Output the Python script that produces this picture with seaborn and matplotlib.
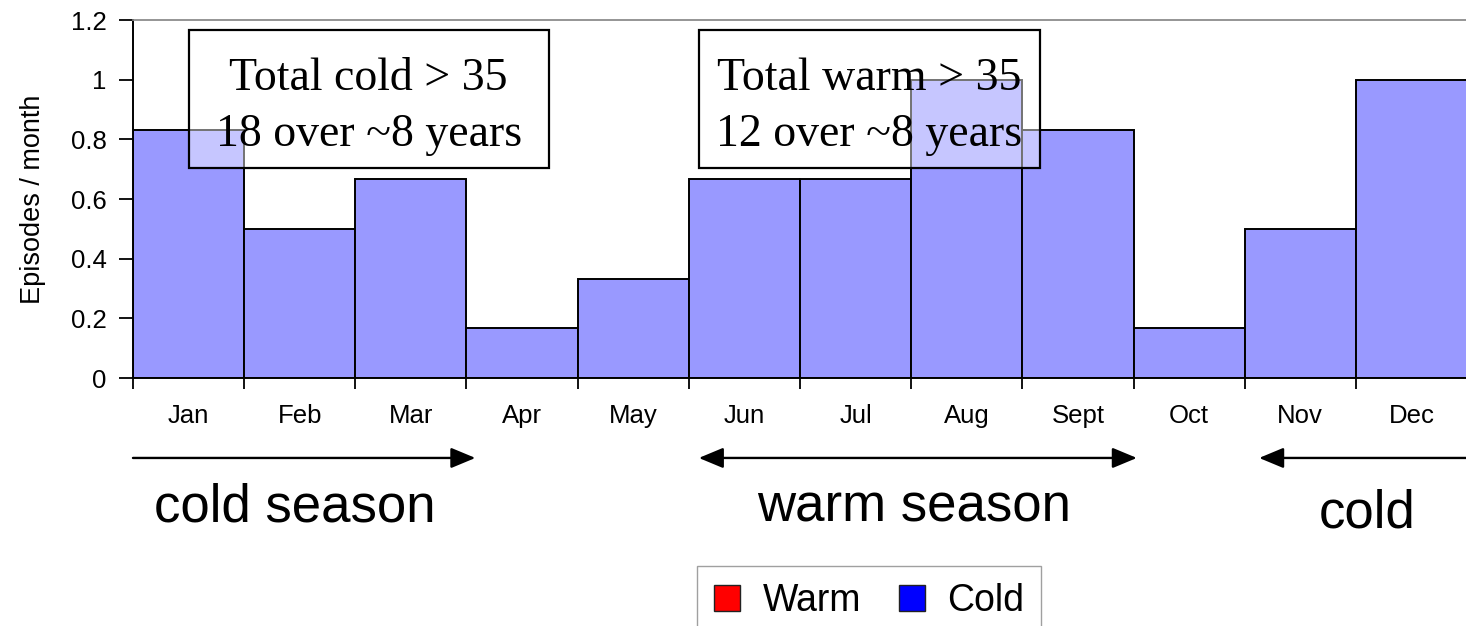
import numpy as np
import pandas as pd
import seaborn as sns
import matplotlib.pyplot as plt
from matplotlib.patches import Patch, Rectangle
from matplotlib.ticker import FuncFormatter

months = ["Jan", "Feb", "Mar", "Apr", "May", "Jun", "Jul", "Aug", "Sept", "Oct", "Nov", "Dec"]
episodes = [0.833, 0.5, 0.667, 0.167, 0.333, 0.667, 0.667, 1.0, 0.833, 0.167, 0.5, 1.0]
box_texts = ["Total cold > 35\n18 over ~8 years", "Total warm > 35\n12 over ~8 years"]
season_labels = ["cold season", "warm season", "cold"]
legend_labels = ["Warm", "Cold"]
legend_colors = ["#ff0000", "#0000ff"]

sns.set_theme(style="ticks")
plt.rcParams["font.family"] = ["Liberation Sans", "DejaVu Sans"]
plt.rcParams["text.color"] = "black"
plt.rcParams["axes.labelcolor"] = "black"
plt.rcParams["xtick.color"] = "black"
plt.rcParams["ytick.color"] = "black"

df = pd.DataFrame({"month": months, "episodes": episodes})

fig = plt.figure(figsize=(14.66, 6.26), dpi=100)
ax = fig.add_axes([0.0907, 0.396, 0.91, 0.572])

sns.barplot(
    data=df,
    x="month",
    y="episodes",
    color="#9999ff",
    saturation=1,
    width=1,
    edgecolor="black",
    linewidth=1.4,
    errorbar=None,
    ax=ax,
)

ax.set_xlim(-0.5, 11.5)
ax.set_ylim(0, 1.2)
ax.set_yticks([0, 0.2, 0.4, 0.6, 0.8, 1.0, 1.2])
ax.yaxis.set_major_formatter(FuncFormatter(lambda v, p: f"{v:g}"))
ax.tick_params(axis="y", labelsize=18.5, length=10, width=1.3, pad=9)

# ticks on bar boundaries, labels at bar centres
ax.set_xticks(np.arange(-0.5, 11.5, 1))
ax.set_xticklabels([])
ax.set_xticks(range(len(months)), minor=True)
ax.set_xticklabels(months, minor=True)
ax.tick_params(axis="x", which="major", length=8, width=1.3)
ax.tick_params(axis="x", which="minor", length=0, labelsize=18.5, pad=19)

ax.set_xlabel("")
ax.set_ylabel("Episodes / month", fontsize=19.5, labelpad=18)

ax.spines["right"].set_visible(False)
ax.spines["top"].set_color("#888888")
for s in ["left", "bottom"]:
    ax.spines[s].set_linewidth(1.4)
    ax.spines[s].set_color("black")

# text boxes (bars show through, lighter)
for (x0, x1), txt in zip([(0.0, 3.24), (4.59, 7.66)], box_texts):
    ax.add_patch(Rectangle((x0, 0.704), x1 - x0, 0.462, facecolor=(1, 1, 1, 0.45),
                           edgecolor="black", linewidth=1.6, zorder=3, clip_on=False))
    ax.text((x0 + x1) / 2, 0.91, txt, ha="center", va="center", fontsize=33,
            family=["Liberation Serif"], linespacing=1.4, zorder=4)

# season arrows
xt = ax.get_xaxis_transform()
arrow = dict(arrowstyle="-|>,head_length=0.6,head_width=0.25", color="black",
             lw=1.7, mutation_scale=25, shrinkA=0, shrinkB=0)
ax.annotate("", xy=(2.58, -0.223), xytext=(-0.5, -0.223), xycoords=xt,
            arrowprops=arrow, annotation_clip=False)
ax.annotate("", xy=(4.59, -0.223), xytext=(8.53, -0.223), xycoords=xt,
            arrowprops=dict(arrow, arrowstyle="<|-|>,head_length=0.6,head_width=0.25"),
            annotation_clip=False)
ax.annotate("", xy=(9.63, -0.223), xytext=(12.0, -0.223), xycoords=xt,
            arrowprops=arrow, annotation_clip=False)

for x, y, lab in zip([0.957, 6.53, 10.6], [-0.36, -0.36, -0.378], season_labels):
    ax.text(x, y, lab, transform=xt, ha="center", va="center", fontsize=38, clip_on=False)

handles = [Patch(facecolor=c, edgecolor="#222222", label=l) for c, l in zip(legend_colors, legend_labels)]
fig.legend(handles=handles, loc="upper left", bbox_to_anchor=(697 / 1466, 1 - 566 / 626),
           ncol=2, frameon=True, fancybox=False, edgecolor="#888888", fontsize=27,
           handlelength=0.7, handleheight=0.7, handletextpad=0.6, columnspacing=1.0,
           borderpad=0.45, borderaxespad=0)

plt.savefig("out.png", dpi=100)
